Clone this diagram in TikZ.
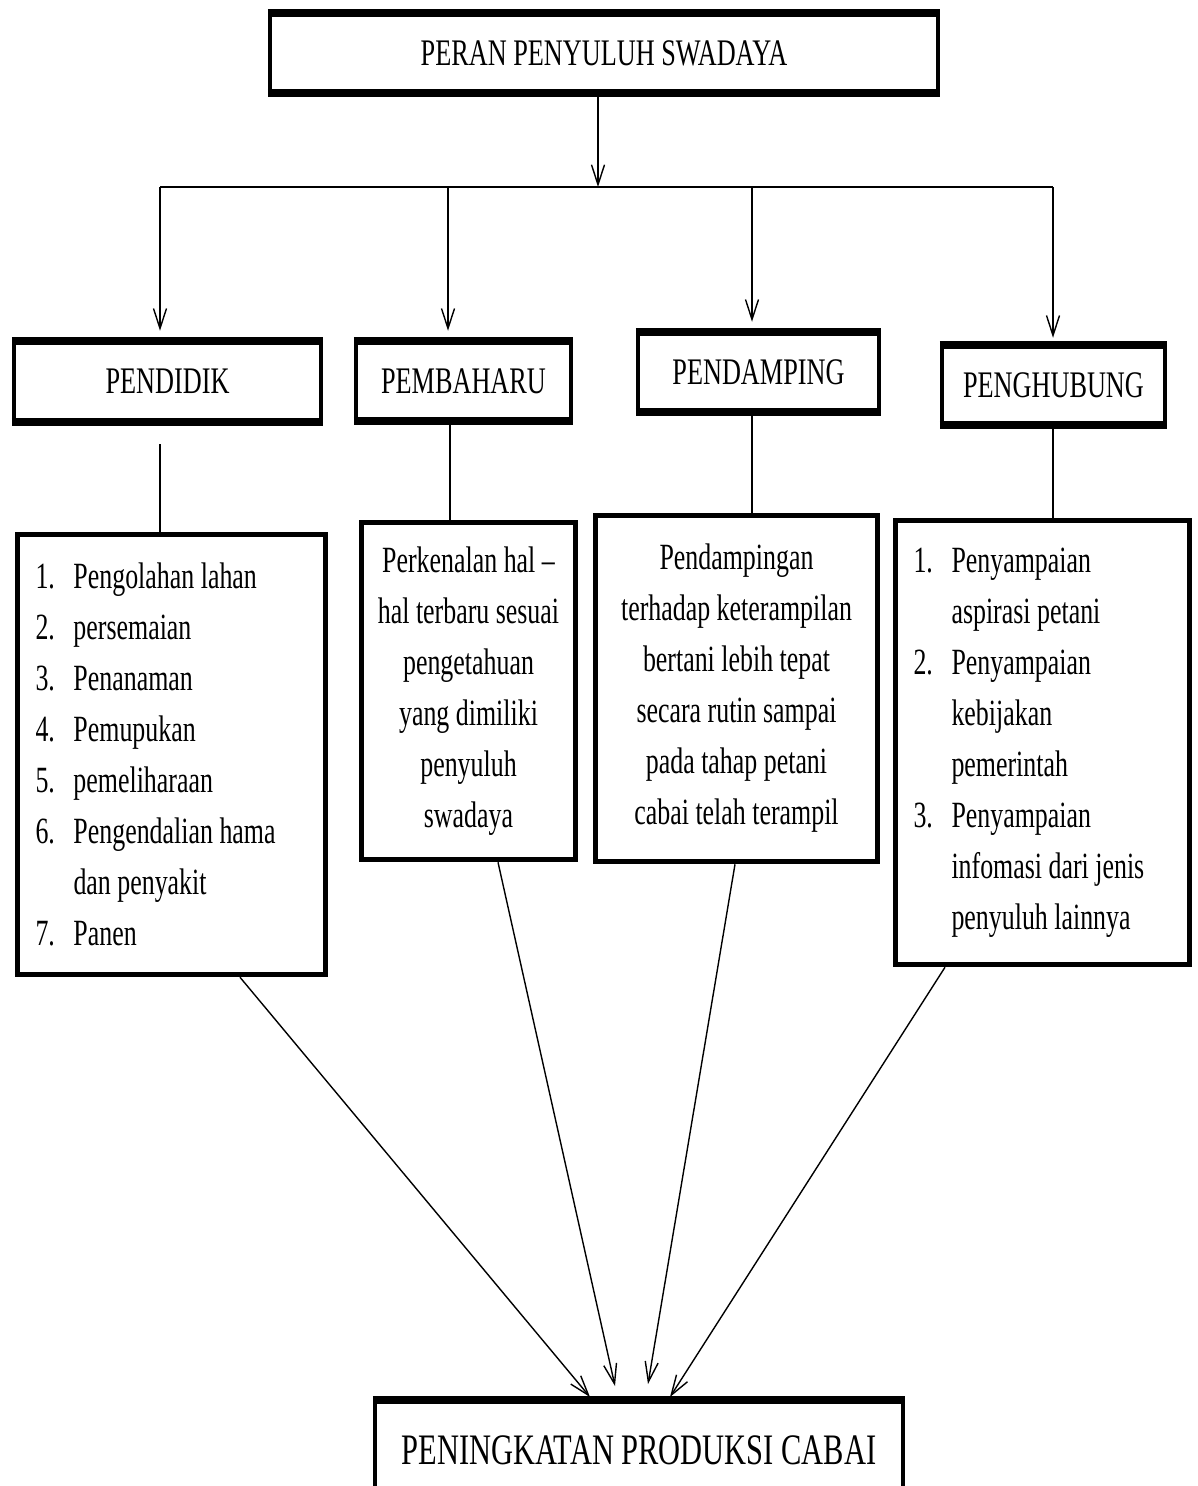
\documentclass[tikz,border=0pt]{standalone}
\usepackage{fontspec}
\setmainfont[FakeStretch=0.7]{Liberation Serif}
\usetikzlibrary{arrows.meta}
\newcommand\numlab[1]{\makebox[38pt][l]{#1}}
\newcommand\hang{\hspace*{38pt}}
\begin{document}
\begin{tikzpicture}[x=1pt,y=-1pt,
  hdr/.style={draw, line width=4.5pt, inner sep=0pt, font=\fontsize{37.5}{44}\selectfont},
  bodybox/.style={draw, line width=5.5pt, inner xsep=18pt, inner ysep=0pt, font=\fontsize{37}{51}\selectfont},
  thickedge/.style={line width=8pt},
  ln/.style={line width=1.4pt},
  arr/.style={line width=1.4pt, -{Straight Barb[length=20pt,width=13pt,line width=1.4pt]}}]
\useasboundingbox[fill=white] (0,0) rectangle (1197,1486);

% top box
\node[hdr, minimum width=668, minimum height=76] (top) at (604,53) {PERAN PENYULUH SWADAYA};
% headings
\node[hdr, minimum width=307, minimum height=77] (pendidik) at (167.5,381.5) {PENDIDIK};
\node[hdr, minimum width=215, minimum height=76] (pembaharu) at (463.5,381) {PEMBAHARU};
\node[hdr, minimum width=241, minimum height=76] (pendamping) at (758.5,372) {PENDAMPING};
\node[hdr, minimum width=223, minimum height=76] (penghubung) at (1053.5,385) {PENGHUBUNG};
\foreach \n in {top,pendidik,pembaharu,pendamping,penghubung}{
  \draw[thickedge] (\n.north west) -- (\n.north east);
  \draw[thickedge] (\n.south west) -- (\n.south east);
}

% detail boxes
\node[bodybox, minimum width=308, minimum height=440, text width=272, align=flush left] (list1) at (171.5,754.5)
 {\numlab{1.}Pengolahan lahan\\
  \numlab{2.}persemaian\\
  \numlab{3.}Penanaman\\
  \numlab{4.}Pemupukan\\
  \numlab{5.}pemeliharaan\\
  \numlab{6.}Pengendalian hama\\
  \hang dan penyakit\\
  \numlab{7.}Panen};
\node[bodybox, inner xsep=6pt, minimum width=214, minimum height=337, text width=202, align=flush center] (perk) at (468.5,691)
 {Perkenalan hal --\\ hal terbaru sesuai\\ pengetahuan\\ yang dimiliki\\ penyuluh\\ swadaya};
\node[bodybox, inner xsep=6pt, minimum width=282, minimum height=346, text width=270, align=flush center] (pdg) at (736.5,688.5)
 {Pendampingan\\ terhadap keterampilan\\ bertani lebih tepat\\ secara rutin sampai\\ pada tahap petani\\ cabai telah terampil};
\node[bodybox, minimum width=294, minimum height=444, text width=258, align=flush left] (list4) at (1042.5,742.5)
 {\numlab{1.}Penyampaian\\
  \hang aspirasi petani\\
  \numlab{2.}Penyampaian\\
  \hang kebijakan\\
  \hang pemerintah\\
  \numlab{3.}Penyampaian\\
  \hang infomasi dari jenis\\
  \hang penyuluh lainnya};

% bottom box
\node[draw, line width=4.5pt, minimum width=528, minimum height=96, inner sep=0pt,
      font=\fontsize{43.5}{50}\selectfont] (bottom) at (639,1450) {PENINGKATAN PRODUKSI CABAI};
\draw[thickedge] (bottom.north west) -- (bottom.north east);

% connectors from top
\coordinate (hub) at (598,187);
\coordinate (h1) at (160,187);
\coordinate (h2) at (448,187);
\coordinate (h3) at (752,187);
\coordinate (h4) at (1053,187);
\draw[arr] (top.south -| hub) -- (hub);
\draw[ln] (h1) -- (h4);
\draw[arr, shorten >=10pt] (h1) -- (pendidik.north -| h1);
\draw[arr, shorten >=10pt] (h2) -- (pembaharu.north -| h2);
\draw[arr, shorten >=10pt] (h3) -- (pendamping.north -| h3);
\draw[arr, shorten >=7pt] (h4) -- (penghubung.north -| h4);

% heading to detail lines
\coordinate (v1) at (160,0);
\coordinate (v2) at (450,0);
\coordinate (v3) at (752,0);
\coordinate (v4) at (1053,0);
\draw[ln, shorten <=22pt] (pendidik.south -| v1) -- (list1.north -| v1);
\draw[ln] (pembaharu.south -| v2) -- (perk.north -| v2);
\draw[ln] (pendamping.south -| v3) -- (pdg.north -| v3);
\draw[ln] (penghubung.south -| v4) -- (list4.north -| v4);

% diagonal arrows to bottom
\coordinate (s1) at (240,0);
\coordinate (s2) at (498,0);
\coordinate (s3) at (735,0);
\coordinate (s4) at (945,0);
\coordinate (t1) at (590,1397);
\coordinate (t2) at (615,1386);
\coordinate (t3) at (648,1384);
\coordinate (t4) at (670,1397);
\draw[arr] (list1.south -| s1) -- (t1);
\draw[arr] (perk.south -| s2) -- (t2);
\draw[arr] (pdg.south -| s3) -- (t3);
\draw[arr] (list4.south -| s4) -- (t4);
\end{tikzpicture}
\end{document}
